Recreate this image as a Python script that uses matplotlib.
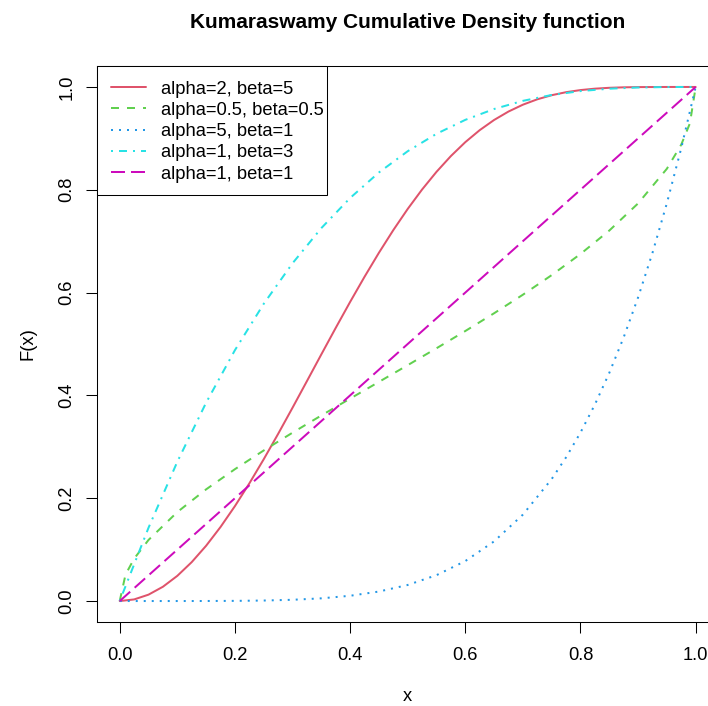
import matplotlib
matplotlib.use("Agg")
import matplotlib.pyplot as plt
from matplotlib.patches import Rectangle

plt.rcParams['font.family'] = ['Liberation Sans', 'DejaVu Sans']

# ---- data ----
x_a2b5 = [0, 0.025, 0.05, 0.075, 0.1, 0.125, 0.15, 0.175, 0.2, 0.225, 0.25,
          0.275, 0.3, 0.325, 0.35, 0.375, 0.4, 0.425, 0.45, 0.475, 0.5, 0.525,
          0.55, 0.575, 0.6, 0.625, 0.65, 0.675, 0.7, 0.725, 0.75, 0.775, 0.8,
          0.825, 0.85, 0.875, 0.9, 0.95, 1.0]
F_a2b5 = [0, 0.00312, 0.01243, 0.02781, 0.04901, 0.07572, 0.10755, 0.14403,
          0.18463, 0.22876, 0.27580, 0.32510, 0.37597, 0.42774, 0.47972,
          0.53128, 0.58179, 0.63067, 0.67741, 0.72154, 0.76270, 0.80056,
          0.83491, 0.86562, 0.89263, 0.91597, 0.93577, 0.95219, 0.96550,
          0.97598, 0.98397, 0.98984, 0.99395, 0.99668, 0.99836, 0.99929,
          0.99975, 0.99999, 1.0]

x_a05b05 = [0, 0.01, 0.025, 0.05, 0.1, 0.15, 0.2, 0.25, 0.3, 0.35, 0.4, 0.45,
            0.5, 0.55, 0.6, 0.65, 0.7, 0.75, 0.8, 0.85, 0.9, 0.95, 0.975,
            0.99, 1.0]
F_a05b05 = [0, 0.05132, 0.08246, 0.11887, 0.17310, 0.21725, 0.25650, 0.29289,
            0.32748, 0.36095, 0.39375, 0.42626, 0.45880, 0.49169, 0.52523,
            0.55980, 0.59585, 0.63397, 0.67508, 0.72063, 0.77347, 0.84087,
            0.88784, 0.92920, 1.0]

x_a5b1 = [0, 0.05, 0.1, 0.15, 0.2, 0.25, 0.3, 0.35, 0.4, 0.45, 0.5, 0.55, 0.6,
          0.65, 0.7, 0.75, 0.775, 0.8, 0.825, 0.85, 0.875, 0.9, 0.925, 0.95,
          0.975, 1.0]
F_a5b1 = [0, 0.0000003, 0.00001, 0.000076, 0.00032, 0.00098, 0.00243, 0.00525,
          0.01024, 0.01845, 0.03125, 0.05033, 0.07776, 0.11603, 0.16807,
          0.23730, 0.27958, 0.32768, 0.38218, 0.44371, 0.51291, 0.59049,
          0.67719, 0.77378, 0.88110, 1.0]

x_a1b3 = [0, 0.05, 0.1, 0.15, 0.2, 0.25, 0.3, 0.35, 0.4, 0.45, 0.5, 0.55, 0.6,
          0.65, 0.7, 0.75, 0.8, 0.85, 0.9, 0.95, 1.0]
F_a1b3 = [0, 0.14263, 0.271, 0.38588, 0.488, 0.57813, 0.657, 0.72538, 0.784,
          0.83363, 0.875, 0.90888, 0.936, 0.95713, 0.973, 0.98438, 0.992,
          0.99663, 0.999, 0.99988, 1.0]

x_a1b1 = [0, 1.0]
F_a1b1 = [0, 1.0]

labels = ["alpha=2, beta=5", "alpha=0.5, beta=0.5", "alpha=5, beta=1",
          "alpha=1, beta=3", "alpha=1, beta=1"]
colors = ["#DF536B", "#61D04F", "#2297E6", "#28E2E5", "#CD0BBC"]
dashes = [None, (4, 4), (1, 3), (1, 3, 4, 3), (7, 3)]

title = "Kumaraswamy Cumulative Density function"
xlabel = "x"
ylabel = "F(x)"
xticks = [0.0, 0.2, 0.4, 0.6, 0.8, 1.0]
yticks = [0.0, 0.2, 0.4, 0.6, 0.8, 1.0]

# ---- figure ----
FS = 13.2
fig = plt.figure(figsize=(7.08, 7.06), dpi=100)
ax = fig.add_axes([0.13658, 0.11955, 0.87853, 0.78640])

series = [(x_a2b5, F_a2b5), (x_a05b05, F_a05b05), (x_a5b1, F_a5b1),
          (x_a1b3, F_a1b3), (x_a1b1, F_a1b1)]
lw = 1.44
for (xs, ys), lab, c, d in zip(series, labels, colors, dashes):
    if d is None:
        ax.plot(xs, ys, color=c, lw=lw, label=lab, solid_capstyle='round',
                solid_joinstyle='round', zorder=2)
    else:
        ax.plot(xs, ys, color=c, lw=lw, label=lab, dashes=d, zorder=2)

ax.set_xlim(-0.04, 1.04)
ax.set_ylim(-0.04, 1.04)
ax.tick_params(axis='both', direction='out', length=7.6, width=0.75,
               labelsize=FS, pad=10.8, color='black')
ax.set_xticks(xticks)
ax.set_yticks(yticks)
ax.set_xticklabels([f"{v:.1f}" for v in xticks])
ax.set_yticklabels([f"{v:.1f}" for v in yticks], rotation=90,
                   rotation_mode='anchor', ha='center', va='baseline')
for s in ax.spines.values():
    s.set_linewidth(0.75)
    s.set_color('black')
ax.spines['right'].set_visible(False)

xl = ax.set_xlabel(xlabel, fontsize=FS)
ax.xaxis.set_label_coords(0.5, -0.1510)
xl.set_va('bottom')
yl = ax.set_ylabel(ylabel, fontsize=FS)
ax.yaxis.set_label_coords(-0.1029, 0.5)
yl.set_rotation_mode('anchor')
yl.set_va('baseline')
yl.set_ha('center')
ax.set_title(title, fontsize=15.0, fontweight='bold', pad=27.6)

# legend (R style: square white box in top-left corner)
frame = Rectangle((0, 1 - 0.2316), 0.3703, 0.2316, transform=ax.transAxes,
                  facecolor='white', edgecolor='black', linewidth=0.75,
                  zorder=4.5, clip_on=False)
ax.add_patch(frame)
leg = ax.legend(loc='upper left', bbox_to_anchor=(0, 1), borderaxespad=0,
                fontsize=FS, frameon=False, handlelength=1.9,
                handletextpad=0.82, labelspacing=0.23, borderpad=0.78)
leg.set_zorder(5)

fig.savefig("out.png", dpi=100)
